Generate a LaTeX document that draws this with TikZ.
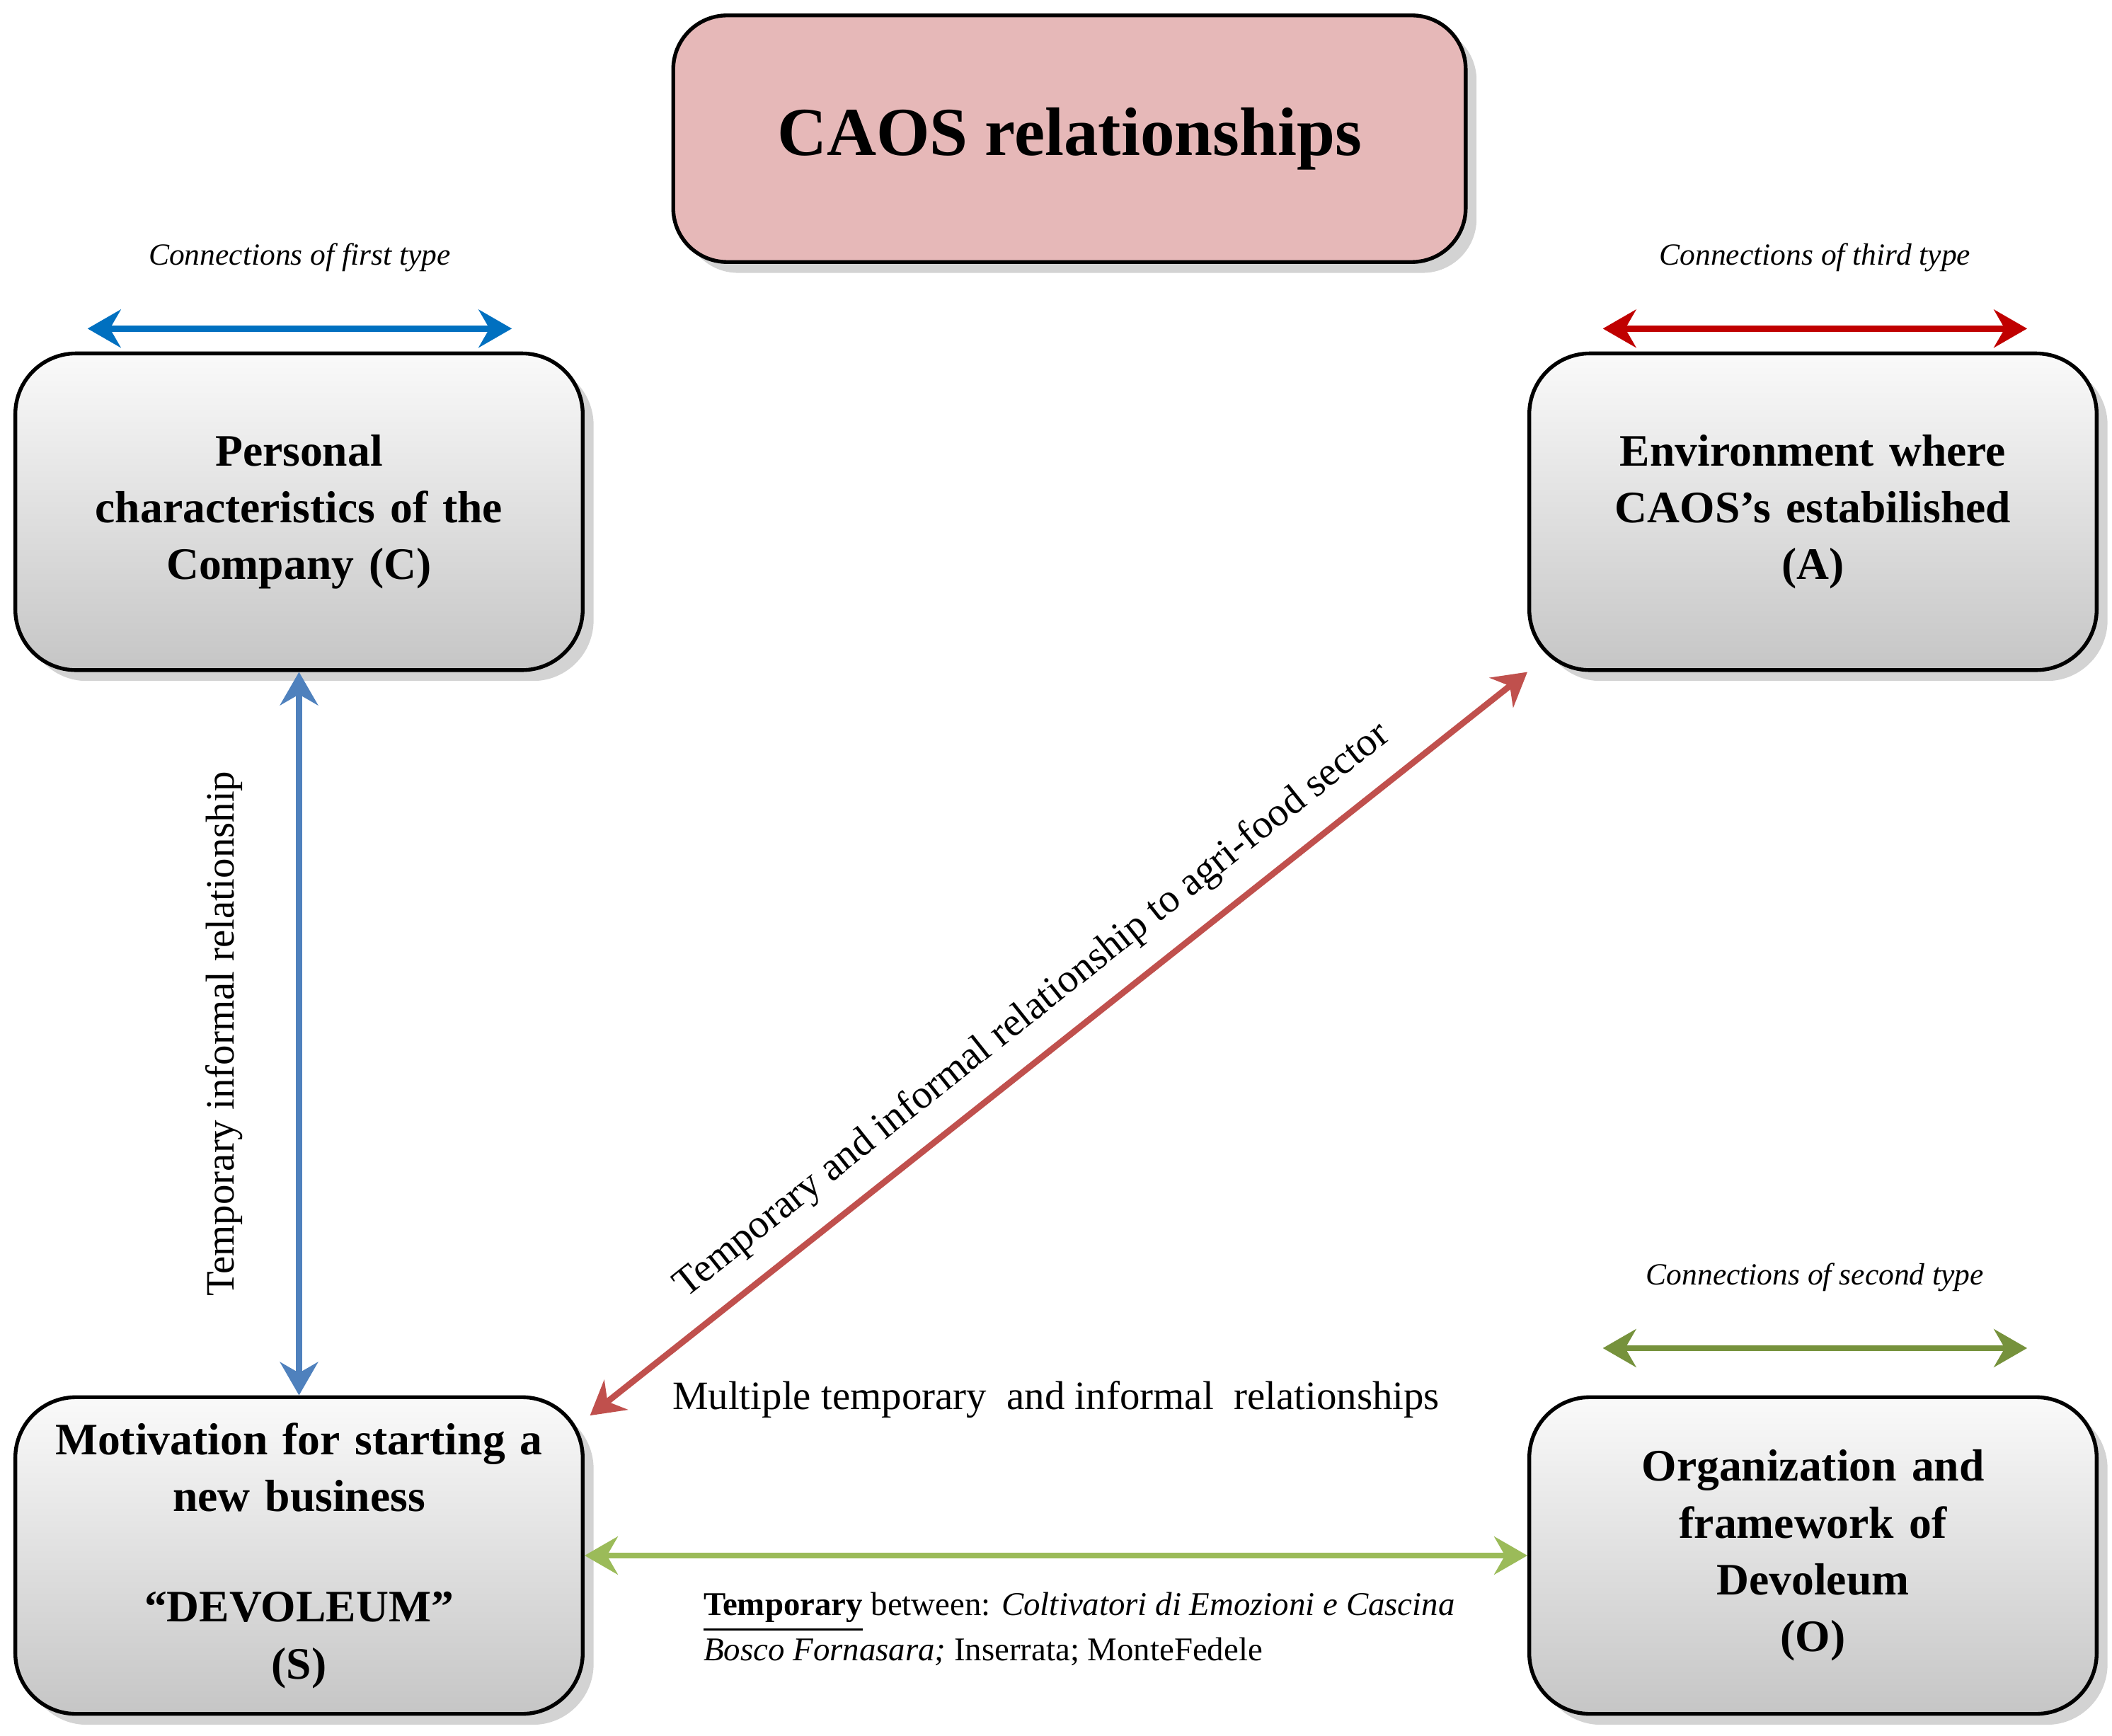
\documentclass[tikz,border=0pt]{standalone}
\usepackage{fontspec}
\setmainfont{Liberation Serif}
\usetikzlibrary{arrows.meta,shadows,calc}
\definecolor{titlepink}{RGB}{230,184,184}
\definecolor{linkblue}{RGB}{0,112,192}
\definecolor{softblue}{RGB}{79,129,189}
\definecolor{linkred}{RGB}{192,0,0}
\definecolor{softred}{RGB}{192,80,77}
\definecolor{linkgreen}{RGB}{118,146,60}
\definecolor{softgreen}{RGB}{155,187,89}
\begin{document}
\begin{tikzpicture}[x=0.01cm,y=-0.01cm,
    box/.style={draw=black,thick,rounded corners=0.45cm,minimum width=4.21cm,minimum height=2.35cm,
      text width=3.9cm,inner sep=2pt,
      top color=gray!4,bottom color=gray!45,drop shadow={opacity=0.35},align=center,
      font=\fontsize{9.5}{12}\selectfont\bfseries},
    link/.style={line width=1.3pt,{Stealth[length=7pt,width=8pt]}-{Stealth[length=7pt,width=8pt]}},
    kind/.style={font=\fontsize{6.5}{8}\selectfont\itshape,text=black},
    rel/.style={font=\fontsize{8.5}{10}\selectfont,text=black}
  ]
    \useasboundingbox (0,0) rectangle (1568,1289);
\node[draw=black,thick,rounded corners=0.4cm,fill=titlepink,minimum width=5.88cm,minimum height=1.83cm,
  drop shadow={opacity=0.35},font=\fontsize{14.5}{18}\selectfont\bfseries] (title) at (794,103) {CAOS relationships};

\node[box] (comp) at (222,380) {Personal\\characteristics of the\\Company (C)};
\node[box] (env) at (1346,380) {Environment where\\CAOS's estabilished\\(A)};
\node[box] (mot) at (222,1155) {Motivation for starting a\\new business\\[1.2em]``DEVOLEUM''\\(S)};
\node[box] (org) at (1346,1155) {Organization and\\framework of\\Devoleum\\(O)};

% connection types
\coordinate (b1) at (65,244); \coordinate (b2) at (380,244);
\coordinate (r1) at (1190,244); \coordinate (r2) at (1505,244);
\coordinate (g1) at (1190,1001); \coordinate (g2) at (1505,1001);
\draw[link,linkblue] (b1)--(b2) node[midway,above=8pt,kind] {Connections of first type};
\draw[link,linkred] (r1)--(r2) node[midway,above=8pt,kind] {Connections of third type};
\draw[link,linkgreen] (g1)--(g2) node[midway,above=8pt,kind] {Connections of second type};

% relationships
\draw[link,softblue] (comp.south)--(mot.north)
  node[midway,left=8pt,rotate=90,anchor=south,rel] {Temporary informal relationship};
\draw[link,softred] ($(mot.north east)+(4,15)$) coordinate (dm)--(env.south west)
  node[midway,sloped,above=1pt,rel] {Temporary and informal relationship to agri-food sector};
\draw[link,softgreen] (mot.east)--(org.west)
  node[midway,above=25pt,rel] {Multiple temporary\ \ and informal\ \ relationships};
\node[anchor=north west,align=left,font=\fontsize{7}{9.5}\selectfont] (note) at (510,1170)
  {\textbf{\underline{Temporary}} between: \textit{Coltivatori di Emozioni e Cascina}\\
   \textit{Bosco Fornasara;} Inserrata; MonteFedele};
\end{tikzpicture}
\end{document}
